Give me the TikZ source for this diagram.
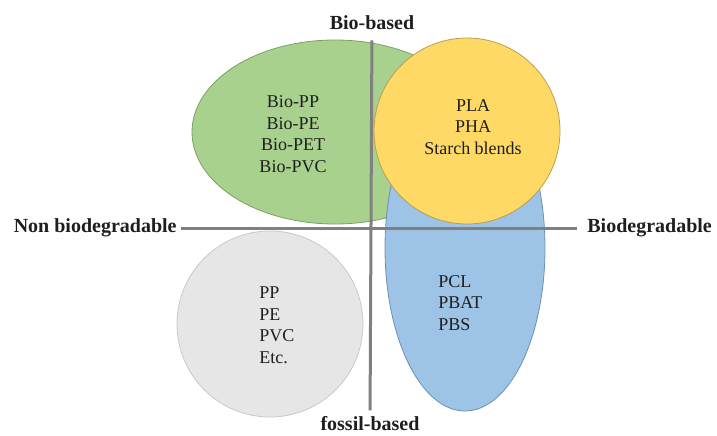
\documentclass[tikz,border=0pt]{standalone}
\usepackage{fontspec}
\setmainfont{Liberation Serif}
\definecolor{greenfill}{HTML}{A9D18E}
\definecolor{greenedge}{HTML}{7E9E66}
\definecolor{yellowfill}{HTML}{FFD966}
\definecolor{yellowedge}{HTML}{B5A050}
\definecolor{bluefill}{HTML}{9DC3E6}
\definecolor{blueedge}{HTML}{6E90B0}
\definecolor{greyfill}{HTML}{E7E6E6}
\definecolor{greyedge}{HTML}{C9C9C9}
\definecolor{axisgrey}{HTML}{808080}
\definecolor{inkgrey}{HTML}{1E1E1E}
\begin{document}
\begin{tikzpicture}[x=1pt,y=-1pt,thick,
  blob/.style={line width=0.8pt},
  listtext/.style={font=\fontsize{18}{21.5}\selectfont,text=inkgrey,inner sep=0pt},
  axislabel/.style={font=\fontsize{20}{24}\selectfont\bfseries,text=inkgrey,inner sep=2pt},
  axisline/.style={line width=3pt,draw=axisgrey}]
  \useasboundingbox (0,0) rectangle (717,436);

  % Regions
  \draw[blob,fill=greenfill,draw=greenedge] (335,132) ellipse [x radius=143pt, y radius=92pt];
  \draw[blob,fill=bluefill,draw=blueedge] (465,248) ellipse [x radius=80pt, y radius=163pt];
  \draw[blob,fill=yellowfill,draw=yellowedge] (467,131) circle [radius=93pt];
  \draw[blob,fill=greyfill,draw=greyedge] (270,324) circle [radius=93pt];

  % Region contents
  \node[listtext,align=center] (biolist) at (293,134) {Bio-PP\\Bio-PE\\Bio-PET\\Bio-PVC};
  \node[listtext,align=center] (pla) at (473,127) {PLA\\PHA\\Starch blends};
  \node[listtext,align=left,anchor=west] (fossillist) at (259,325) {PP\\PE\\PVC\\Etc.};
  \node[listtext,align=left,anchor=west] (pcl) at (438,303) {PCL\\PBAT\\PBS};

  % Axis labels
  \node[axislabel] (biobased) at (372,23) {Bio-based};
  \node[axislabel] (fossil) at (370,424) {fossil-based};
  \node[axislabel,anchor=east] (nonbio) at (179,228) {Non biodegradable};
  \node[axislabel,anchor=west] (biodeg) at (585,228) {Biodegradable};

  % Axes
  \draw[axisline,shorten <=8pt,shorten >=4pt] (biobased) -- (fossil);
  \draw[axisline,shorten <=2pt,shorten >=8pt] (nonbio) -- (biodeg);
\end{tikzpicture}
\end{document}
